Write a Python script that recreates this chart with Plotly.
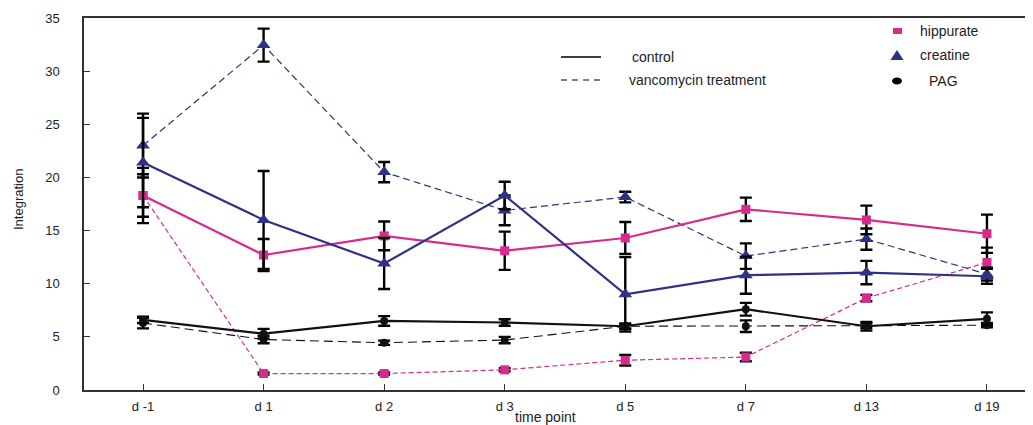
import plotly.graph_objects as go

categories = ["d -1", "d 1", "d 2", "d 3", "d 5", "d 7", "d 13", "d 19"]

hip_ctrl = [18.3, 12.7, 14.5, 13.1, 14.3, 17.0, 16.0, 14.7]
hip_ctrl_err = [2.0, 1.5, 1.35, 1.8, 1.5, 1.1, 1.35, 1.8]
hip_vanc = [18.3, 1.55, 1.55, 1.9, 2.8, 3.1, 8.65, 12.0]
hip_vanc_err = [2.6, 0.1, 0.1, 0.15, 0.5, 0.4, 0.3, 1.4]

cre_ctrl = [21.4, 16.0, 11.9, 18.3, 9.0, 10.8, 11.05, 10.7]
cre_ctrl_err = [4.2, 4.6, 2.4, 1.3, 3.5, 1.75, 1.1, 0.7]
cre_vanc = [23.0, 32.45, 20.5, 16.9, 18.15, 12.6, 14.2, 10.9]
cre_vanc_err = [3.0, 1.55, 0.95, 1.4, 0.5, 1.2, 1.0, 0.6]

pag_ctrl = [6.6, 5.3, 6.5, 6.35, 6.0, 7.6, 6.0, 6.7]
pag_ctrl_err = [0.3, 0.45, 0.45, 0.3, 0.25, 0.6, 0.4, 0.6]
pag_vanc = [6.3, 4.75, 4.45, 4.7, 6.0, 6.0, 6.05, 6.1]
pag_vanc_err = [0.5, 0.35, 0.2, 0.3, 0.2, 0.55, 0.2, 0.2]

y_ticks = [0, 5, 10, 15, 20, 25, 30, 35]

PINK = "#D62A8C"
NAVY = "#2F3185"
BLACK = "#111111"
FONT = "Liberation Sans, Arial, sans-serif"

# page has an 8px body margin: shift everything by it
OFF = 8
FIG_W, FIG_H = 1033 - OFF, 425 - OFF

fig = go.Figure()

def err(arr):
    return dict(type="data", array=arr, visible=True, color="black", thickness=2.4, width=6)

series = [
    (pag_vanc, pag_vanc_err, BLACK, "9px,5px", 1.1, "circle", 8, "PAG vancomycin"),
    (hip_vanc, hip_vanc_err, PINK, "5px,3px", 1.2, "square", 9, "hippurate vancomycin"),
    (cre_vanc, cre_vanc_err, NAVY, "7px,4px", 1.2, "triangle-up", 12, "creatine vancomycin"),
    (pag_ctrl, pag_ctrl_err, BLACK, "solid", 2.2, "circle", 8, "PAG control"),
    (hip_ctrl, hip_ctrl_err, PINK, "solid", 2.2, "square", 9, "hippurate control"),
    (cre_ctrl, cre_ctrl_err, NAVY, "solid", 2.2, "triangle-up", 12, "creatine control"),
]
for vals, errs, col, dash, w, sym, size, name in series:
    fig.add_trace(go.Scatter(
        x=categories, y=vals, name=name, mode="lines+markers",
        line=dict(color=col, width=w, dash=dash),
        marker=dict(color=col, symbol=sym, size=size, line=dict(width=0)),
        error_y=err(errs), showlegend=False,
    ))

# plot-area edges in screen pixels
L, R, T, B = 84, 1033, 18, 390
W, H = R - L, B - T

def px(x):
    return (x - L) / W

def py(y):
    return (B - y) / H

shapes = [
    dict(type="line", xref="paper", yref="paper", x0=px(561), x1=px(601), y0=py(57), y1=py(57),
         line=dict(color="black", width=1.3)),
    dict(type="line", xref="paper", yref="paper", x0=px(561), x1=px(601), y0=py(80), y1=py(80),
         line=dict(color="black", width=1.1, dash="6px,5px")),
    dict(type="rect", xref="paper", yref="paper", x0=px(893), x1=px(902), y0=py(34), y1=py(28),
         fillcolor=PINK, line=dict(width=0)),
    dict(type="path", xref="paper", yref="paper",
         path=f"M {px(890.5)} {py(60)} L {px(903.5)} {py(60)} L {px(897)} {py(50)} Z",
         fillcolor=NAVY, line=dict(width=0)),
    dict(type="circle", xref="paper", yref="paper", x0=px(892), x1=px(902), y0=py(84.5), y1=py(77.5),
         fillcolor="black", line=dict(width=0)),
]

ann_font = dict(family=FONT, size=14, color="#222")
annotations = [
    dict(text="control", x=px(630), y=py(57), xref="paper", yref="paper", xanchor="left", yanchor="middle",
         showarrow=False, font=ann_font),
    dict(text="vancomycin treatment", x=px(627), y=py(80), xref="paper", yref="paper", xanchor="left",
         yanchor="middle", showarrow=False, font=ann_font),
    dict(text="hippurate", x=px(918), y=py(31), xref="paper", yref="paper", xanchor="left", yanchor="middle",
         showarrow=False, font=ann_font),
    dict(text="creatine", x=px(918), y=py(55), xref="paper", yref="paper", xanchor="left", yanchor="middle",
         showarrow=False, font=ann_font),
    dict(text="PAG", x=px(927), y=py(81), xref="paper", yref="paper", xanchor="left", yanchor="middle",
         showarrow=False, font=ann_font),
    dict(text="Integration", x=px(18), y=py(200), xref="paper", yref="paper", xanchor="center",
         yanchor="middle", textangle=-90, showarrow=False, font=dict(family=FONT, size=13, color="#222")),
    dict(text="time point", x=px(545), y=py(417), xref="paper", yref="paper", xanchor="center",
         yanchor="middle", showarrow=False, font=dict(family=FONT, size=14, color="#222")),
]

tick_font = dict(family=FONT, size=13, color="#222")
fig.update_layout(
    width=FIG_W, height=FIG_H,
    margin=dict(l=L - OFF, r=(1033 - OFF) - (R - OFF), t=T - OFF, b=FIG_H - (B - OFF), pad=0),
    paper_bgcolor="white", plot_bgcolor="white",
    font=dict(family=FONT, size=13, color="#222"),
    shapes=shapes, annotations=annotations,
    xaxis=dict(type="category", range=[-0.4896, 7.382], showgrid=False, zeroline=False,
               showline=True, linecolor="#333", linewidth=1.5, mirror=True,
               ticks="inside", ticklen=6, tickwidth=1.3, tickcolor="#333",
               ticklabelstandoff=4, tickfont=tick_font),
    yaxis=dict(range=[0, 35], tickvals=y_ticks, showgrid=False, zeroline=False,
               showline=True, linecolor="#333", linewidth=1.5,
               ticks="inside", ticklen=6, tickwidth=1.3, tickcolor="#333",
               ticklabelstandoff=20, tickfont=tick_font),
)

fig.write_html("out.html")
